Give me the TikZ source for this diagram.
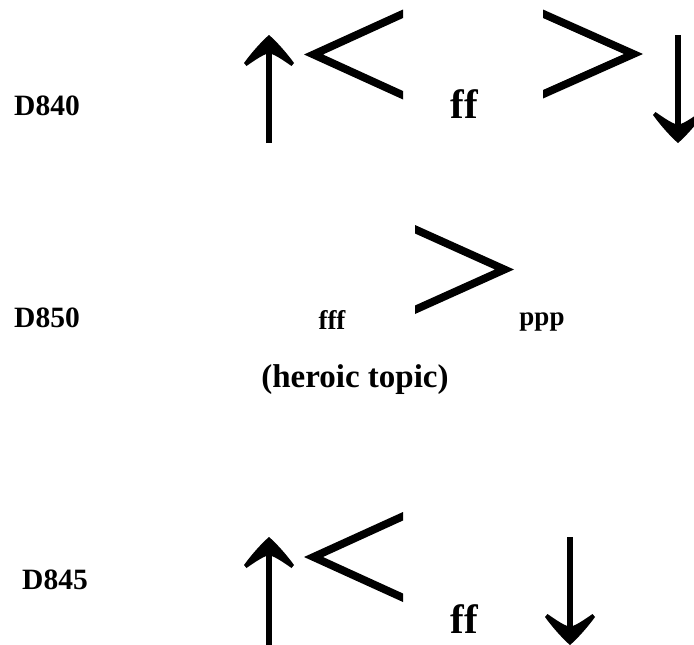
\documentclass[tikz,border=0pt]{standalone}
\usepackage{fontspec}
\setmainfont{Liberation Serif}
\tikzset{
  shaft/.style={line width=5.5pt, line cap=butt},
  % filled barbed head, tip at the origin, pointing towards -y on the page
  barbhead/.pic={
    \fill (0,0) .. controls (-7,6) and (-17,17) .. (-25,28)
      -- (-22.5,31) .. controls (-14,25) and (-7,20.5) .. (-2.75,19)
      -- (2.75,19) .. controls (7,20.5) and (14,25) .. (22.5,31)
      -- (25,28) .. controls (17,17) and (7,6) .. (0,0) -- cycle;
  },
  rowlabel/.style={font=\bfseries\fontsize{29.5}{32}\selectfont, inner sep=0pt},
  dyn/.style={font=\bfseries\fontsize{41}{44}\selectfont, inner sep=0pt},
  dynsmall/.style={font=\bfseries\fontsize{27}{30}\selectfont, inner sep=0pt},
  note/.style={font=\bfseries\fontsize{33}{36}\selectfont, inner sep=0pt}
}
\begin{document}
\begin{tikzpicture}[x=1pt, y=-1pt]
\useasboundingbox (0,0) rectangle (694,645);

% ---- D840 ----
\node[rowlabel] (d840) at (47,106) {D840};
\coordinate (a1s) at (269,143);
\coordinate (a1t) at (269,35);
\draw[shaft] (a1s) -- ([yshift=-14pt]a1t);
\pic at (a1t) {barbhead};
% opening hairpin
\fill (403,9.5) -- (304,54.5) -- (403,99.5) -- (403,91) -- (323,54.5) -- (403,18) -- cycle;
\node[dyn] (ff1) at (464,104) {ff};
% closing hairpin
\fill (543,9.5) -- (643,54) -- (543,98.5) -- (543,90) -- (624,54) -- (543,18) -- cycle;
\coordinate (b1s) at (678,35);
\coordinate (b1t) at (678,143);
\draw[shaft] (b1s) -- ([yshift=14pt]b1t);
\pic[rotate=180] at (b1t) {barbhead};

% ---- D850 ----
\node[rowlabel] (d850) at (47,318) {D850};
\node[dynsmall] (fff) at (332,320) {fff};
\fill (415,225) -- (514,269.5) -- (415,314) -- (415,305.5) -- (495,269.5) -- (415,233.5) -- cycle;
\node[dynsmall] (ppp) at (542,322) {ppp};
\node[note] (topic) at (355,380) {(heroic topic)};

% ---- D845 ----
\node[rowlabel] (d845) at (55,580) {D845};
\coordinate (a3s) at (269,645);
\coordinate (a3t) at (269,537);
\draw[shaft] (a3s) -- ([yshift=-14pt]a3t);
\pic at (a3t) {barbhead};
\fill (403,512) -- (304,557) -- (403,602) -- (403,593.5) -- (323,557) -- (403,520.5) -- cycle;
\node[dyn] (ff3) at (464,619) {ff};
\coordinate (b3s) at (570,537);
\coordinate (b3t) at (570,645);
\draw[shaft] (b3s) -- ([yshift=14pt]b3t);
\pic[rotate=180] at (b3t) {barbhead};
\end{tikzpicture}
\end{document}
